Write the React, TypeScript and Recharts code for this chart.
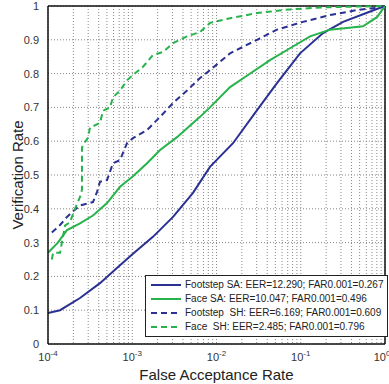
import { LineChart, Line, XAxis, YAxis, CartesianGrid, Legend, ReferenceLine } from "recharts";

const BLUE = "#2b3192";
const GREEN = "#27b34b";

// false acceptance rate (x) and verification rate (y) for each curve
const footSaFar = [1e-4, 1.39e-4, 2.4e-4, 4.14e-4, 6.24e-4, 1.02e-3, 1.76e-3, 3.05e-3, 5.26e-3, 8.37e-3, 1.57e-2, 3.03e-2, 5.22e-2, 9.8e-2, 0.184, 0.318, 0.611, 1];
const footSaTpr = [0.092, 0.1, 0.136, 0.18, 0.22, 0.267, 0.317, 0.376, 0.447, 0.524, 0.594, 0.692, 0.772, 0.86, 0.92, 0.953, 0.98, 1];

const faceSaFar = [1e-4, 1.31e-4, 1.68e-4, 2.4e-4, 3.42e-4, 5.02e-4, 7.16e-4, 1.02e-3, 1.5e-3, 2.14e-3, 3.4e-3, 6.37e-3, 8.37e-3, 1.45e-2, 2.18e-2, 4.32e-2, 7.45e-2, 0.129, 0.222, 0.354, 0.548, 0.803, 1];
const faceSaTpr = [0.27, 0.3, 0.337, 0.357, 0.38, 0.417, 0.465, 0.496, 0.535, 0.574, 0.612, 0.672, 0.7, 0.76, 0.79, 0.84, 0.875, 0.91, 0.93, 0.935, 0.94, 0.967, 1];

const footShFar = [1.11e-4, 1.39e-4, 1.68e-4, 1.93e-4, 2.4e-4, 3.42e-4, 3.82e-4, 4.14e-4, 5.02e-4, 5.91e-4, 7.16e-4, 8.67e-4, 1.02e-3, 1.5e-3, 2.14e-3, 3.05e-3, 4.47e-3, 6.37e-3, 8.37e-3, 1.45e-2, 3.03e-2, 5.22e-2, 0.106, 0.222, 0.466, 0.946];
const footShTpr = [0.33, 0.352, 0.376, 0.39, 0.41, 0.42, 0.45, 0.48, 0.485, 0.535, 0.544, 0.594, 0.609, 0.633, 0.672, 0.713, 0.75, 0.787, 0.81, 0.86, 0.9, 0.93, 0.953, 0.973, 0.988, 0.997];

const faceShFar = [1.11e-4, 1.15e-4, 1.39e-4, 1.59e-4, 1.82e-4, 2.09e-4, 2.4e-4, 2.53e-4, 2.53e-4, 2.6e-4, 2.98e-4, 3.15e-4, 4.14e-4, 4.5e-4, 5.44e-4, 5.91e-4, 7.16e-4, 8.67e-4, 1.02e-3, 1.34e-3, 1.76e-3, 2.32e-3, 3.05e-3, 4.47e-3, 6.37e-3, 8.37e-3, 1.45e-2, 3.03e-2, 7.45e-2, 0.184, 0.946];
const faceShTpr = [0.25, 0.27, 0.27, 0.35, 0.36, 0.4, 0.435, 0.456, 0.58, 0.589, 0.61, 0.64, 0.654, 0.69, 0.7, 0.73, 0.75, 0.78, 0.796, 0.82, 0.855, 0.864, 0.89, 0.91, 0.923, 0.95, 0.964, 0.979, 0.99, 0.996, 1];

const yTicks = [0, 0.1, 0.2, 0.3, 0.4, 0.5, 0.6, 0.7, 0.8, 0.9, 1];
const decades = [-4, -3, -2, -1, 0];

const series = [
	{ name: "Footstep SA: EER=12.290; FAR0.001=0.267", far: footSaFar, tpr: footSaTpr, color: BLUE, dash: undefined },
	{ name: "Face SA: EER=10.047; FAR0.001=0.496", far: faceSaFar, tpr: faceSaTpr, color: GREEN, dash: undefined },
	{ name: "Footstep  SH: EER=6.169; FAR0.001=0.609", far: footShFar, tpr: footShTpr, color: BLUE, dash: "6 4" },
	{ name: "Face  SH: EER=2.485; FAR0.001=0.796", far: faceShFar, tpr: faceShTpr, color: GREEN, dash: "6 4" },
];

// every 1..9 x 10^k gets a dotted grid line, only decades get labels
const xTicks: number[] = [];
decades.forEach((d) => {
	if (d === 0) {
		xTicks.push(1);
		return;
	}
	for (let m = 1; m < 10; m++) xTicks.push(Number((m * Math.pow(10, d)).toPrecision(3)));
});

const XTick = (props: any) => {
	const { x, y, payload } = props;
	const lg = Math.log10(payload.value);
	const e = Math.round(lg);
	if (Math.abs(lg - e) > 1e-6) return null;
	return (
		<text x={e === 0 ? x - 3 : x} y={y + 9} textAnchor="middle" fontSize={11} fill="#333">
			10
			<tspan dy={-5} fontSize={8}>
				{e}
			</tspan>
		</text>
	);
};

const LegendBox = () => (
	<div
		style={{
			border: "1px solid #222",
			background: "#fff",
			padding: "2px 4px 2px 4px",
			fontFamily: "'Liberation Sans', Arial, sans-serif",
			fontSize: 10,
			color: "#222",
			lineHeight: "14px",
			whiteSpace: "pre",
		}}
	>
		{series.map((s) => (
			<div key={s.name} style={{ display: "flex", alignItems: "center" }}>
				<svg width={32} height={8} style={{ marginRight: 3 }}>
					<line x1={1} y1={4} x2={31} y2={4} stroke={s.color} strokeWidth={2} strokeDasharray={s.dash} />
				</svg>
				{s.name}
			</div>
		))}
	</div>
);

const App = () => {
	return (
		<div style={{ position: "absolute", left: 0, top: 0, fontFamily: "'Liberation Sans', Arial, sans-serif" }}>
			<LineChart width={389} height={384} margin={{ top: 6, right: 4, bottom: 0, left: 0 }}>
				<CartesianGrid stroke="#888" strokeDasharray="1 2" />
				<XAxis
					type="number"
					dataKey="far"
					scale="log"
					domain={[1e-4, 1]}
					ticks={xTicks}
					allowDataOverflow
					interval={0}
					tick={<XTick />}
					tickLine={false}
					axisLine={{ stroke: "#111", strokeWidth: 1.5 }}
					height={40}
					label={{ value: "False Acceptance Rate", position: "insideBottom", offset: 4, fontSize: 15, fill: "#222" }}
				/>
				<YAxis
					type="number"
					domain={[0, 1]}
					ticks={yTicks}
					interval={0}
					width={48}
					tickLine={false}
					tickMargin={3}
					tick={{ fontSize: 11, fill: "#333" }}
					axisLine={{ stroke: "#111", strokeWidth: 1.5 }}
					label={{ value: "Verification Rate", angle: -90, position: "insideLeft", offset: 18, fontSize: 15, fill: "#222", style: { textAnchor: "middle" } }}
				/>
				<ReferenceLine y={1} stroke="#111" strokeWidth={1.5} />
				<ReferenceLine x={1} stroke="#111" strokeWidth={1.5} />
				{series.map((s) => (
					<Line
						key={s.name}
						name={s.name}
						data={s.far.map((f, i) => ({ far: f, tpr: s.tpr[i] }))}
						dataKey="tpr"
						type="linear"
						stroke={s.color}
						strokeWidth={2}
						strokeDasharray={s.dash}
						dot={false}
						isAnimationActive={false}
					/>
				))}
				<Legend
					layout="vertical"
					align="center"
					verticalAlign="middle"
					content={<LegendBox />}
					wrapperStyle={{ position: "absolute", left: 145, top: 275, width: "auto" }}
				/>
			</LineChart>
		</div>
	);
};

export default App;
